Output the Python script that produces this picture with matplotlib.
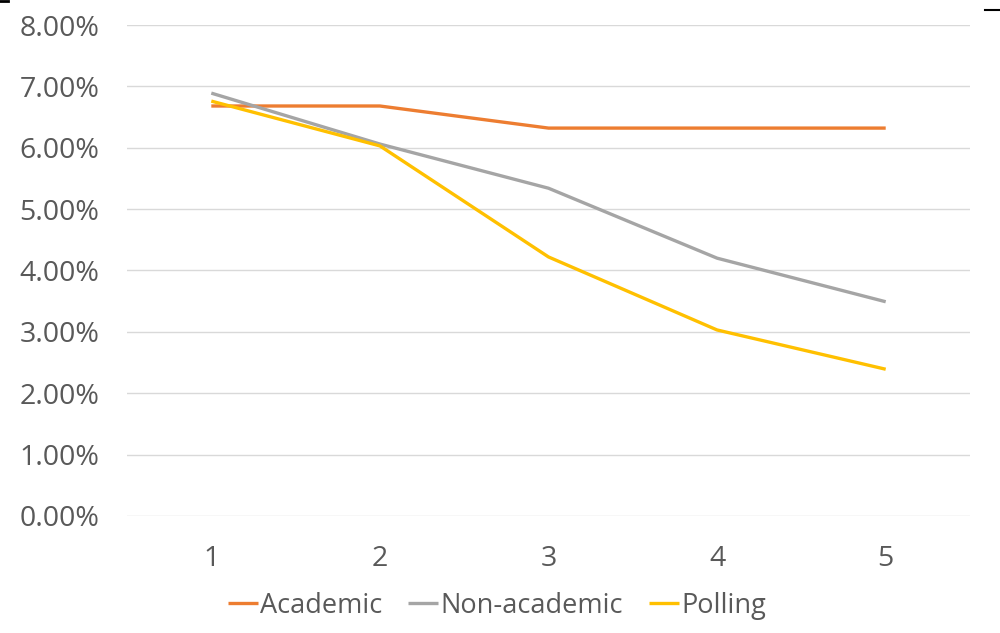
import matplotlib
matplotlib.use("Agg")
import matplotlib.pyplot as plt
from matplotlib.ticker import FuncFormatter
from matplotlib.lines import Line2D

plt.rcParams['font.family'] = ['Open Sans', 'DejaVu Sans']

# rank position vs share of items (%)
positions = [1, 2, 3, 4, 5]
academic = [6.68, 6.68, 6.32, 6.32, 6.32]
non_academic = [6.89, 6.06, 5.34, 4.20, 3.49]
polling = [6.76, 6.03, 4.22, 3.03, 2.39]

series = [
    ("Academic", academic, "#ED7D31"),
    ("Non-academic", non_academic, "#A5A5A5"),
    ("Polling", polling, "#FFC000"),
]

fig = plt.figure(figsize=(10, 6.33), dpi=100)
ax = fig.add_axes([0.127, 0.185, 0.843, 0.7755])

for name, vals, col in series:
    ax.plot(positions, vals, color=col, lw=2.4, label=name, solid_capstyle='butt')

ax.set_xlim(0.5, 5.5)
ax.set_ylim(0, 8)
ax.set_yticks(range(0, 9))
ax.set_xticks(positions)
ax.yaxis.set_major_formatter(FuncFormatter(lambda v, p: f"{v:.2f}%"))
ax.grid(axis='y', color='#D9D9D9', lw=1)
ax.set_axisbelow(True)
for s in ax.spines.values():
    s.set_visible(False)
ax.tick_params(length=0, labelsize=20.5, colors='#595959')
ax.tick_params(axis='y', pad=20)
ax.tick_params(axis='x', pad=21)

leg = fig.legend(loc='center', bbox_to_anchor=(0.497, 0.043), ncol=3, frameon=False,
                 fontsize=19.5, handlelength=1.1, handletextpad=0.1, columnspacing=0.95)
for t in leg.get_texts():
    t.set_color('#595959')

# small dark marks at the top corners
fig.add_artist(Line2D([0, 0.008], [0.998, 0.998], color='black', lw=2, transform=fig.transFigure))
fig.add_artist(Line2D([0.985, 1.0], [0.984, 0.984], color='black', lw=1.5, transform=fig.transFigure))

fig.savefig("out.png", dpi=100)
